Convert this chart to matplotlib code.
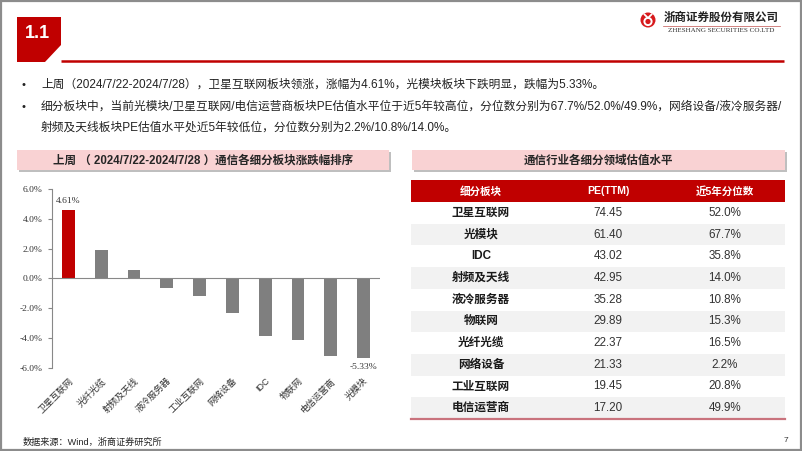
import numpy as np
import matplotlib
matplotlib.use("Agg")
import matplotlib.pyplot as plt
from matplotlib.patches import Rectangle, Polygon, Circle

plt.rcParams['font.family'] = ['Liberation Sans', 'Noto Sans CJK SC', 'DejaVu Sans']

# ---- data ----
cats = ['卫星互联网', '光纤光缆', '射频及天线', '液冷服务器', '工业互联网',
        '网络设备', 'IDC', '物联网', '电信运营商', '光模块']
chg = [4.61, 1.93, 0.59, -0.63, -1.17, -2.34, -3.84, -4.09, -5.19, -5.33]

sectors = ['卫星互联网', '光模块', 'IDC', '射频及天线', '液冷服务器',
           '物联网', '光纤光缆', '网络设备', '工业互联网', '电信运营商']
pe_ttm = [74.45, 61.40, 43.02, 42.95, 35.28, 29.89, 22.37, 21.33, 19.45, 17.20]
pct5y = [52.0, 67.7, 35.8, 14.0, 10.8, 15.3, 16.5, 2.2, 20.8, 49.9]
tbl_cols = ['细分板块', 'PE(TTM)', '近5年分位数']

bullets = ['上周（2024/7/22-2024/7/28），卫星互联网板块领涨，涨幅为4.61%，光模块板块下跌明显，跌幅为5.33%。',
           '细分板块中，当前光模块/卫星互联网/电信运营商板块PE估值水平位于近5年较高位，分位数分别为67.7%/52.0%/49.9%，网络设备/液冷服务器/',
           '射频及天线板块PE估值水平处近5年较低位，分位数分别为2.2%/10.8%/14.0%。']

RED = '#C00000'
GRAY = '#7F7F7F'
PINK = '#F9D2D3'
W, H = 802, 451

fig = plt.figure(figsize=(W/100, H/100), dpi=100)
fig.patch.set_facecolor('white')

# overlay in pixel coords (y down)
ov = fig.add_axes([0, 0, 1, 1], zorder=0)
ov.set_xlim(0, W); ov.set_ylim(H, 0); ov.axis('off')

# slide frame
ov.add_patch(Rectangle((0.8, 0.8), W-1.6, H-1.6, fill=False, ec='#8C8C8C', lw=1.6))

# section block "1.1"
ov.add_patch(Polygon([(17, 17), (61, 17), (61, 45), (45, 62), (17, 62)], closed=True, fc=RED, ec='none'))
ov.text(37, 33, '1.1', color='white', fontsize=13, fontweight='bold', ha='center', va='center')
ov.plot([61, 784], [61, 61], color=RED, lw=1.8, solid_capstyle='butt')

# logo
ov.add_patch(Circle((648, 20), 7.5, fc='#D7191C', ec='none'))
ov.add_patch(Circle((648, 21.5), 3.6, fc='none', ec='white', lw=1.4))
ov.plot([644.5, 648, 651.5], [14.5, 18, 14.5], color='white', lw=1.3)
ov.text(721, 18, '浙商证券股份有限公司', fontsize=8.3, fontweight='bold', color='#222222',
        ha='center', va='center')
ov.plot([663, 780], [26, 26], color='#C0504D', lw=0.5)
ov.text(721, 30.5, 'ZHESHANG SECURITIES CO.LTD', fontsize=5.1, family='Liberation Serif',
        color='#333333', ha='center', va='center')

# bullets
for y, t, b in zip([85, 107, 128], bullets, [True, True, False]):
    if b:
        ov.text(23, y, '•', fontsize=8, color='#222222', ha='center', va='center')
    ov.text(41, y, t, fontsize=8.45, color='#222222', ha='left', va='center')

# panel headers
for x0, x1, title in [(17, 389, '上周 （ 2024/7/22-2024/7/28 ）通信各细分板块涨跌幅排序'),
                      (412, 785, '通信行业各细分领域估值水平')]:
    ov.add_patch(Rectangle((x0+2, 152), x1-x0, 20, fc='#BFBFBF', ec='none'))
    ov.add_patch(Rectangle((x0, 150), x1-x0, 20, fc=PINK, ec='none'))
    ov.text((x0+x1)/2, 160.5, title, fontsize=8.3, fontweight='bold', color='#262626',
            ha='center', va='center')

# table
tx0, tx1 = 411, 785
col_x = [481, 608, 725]
ov.add_patch(Rectangle((tx0, 180), tx1-tx0, 22, fc=RED, ec='none'))
for cx, c in zip(col_x, tbl_cols):
    ov.text(cx, 191.5, c, fontsize=7.6, fontweight='bold', color='white', ha='center', va='center')
rh = 21.7
for i, (s, p, q) in enumerate(zip(sectors, pe_ttm, pct5y)):
    y0 = 202 + i*rh
    if i % 2 == 1:
        ov.add_patch(Rectangle((tx0, y0), tx1-tx0, rh, fc='#F2F2F2', ec='none'))
    yc = y0 + rh/2
    ov.text(col_x[0], yc, s, fontsize=8.4, fontweight='bold', color='#1A1A1A', ha='center', va='center')
    ov.text(col_x[1], yc, f'{p:.2f}', fontsize=8.4, color='#333333', ha='center', va='center')
    ov.text(col_x[2], yc, f'{q:.1f}%', fontsize=8.4, color='#333333', ha='center', va='center')
ov.plot([tx0, tx1], [202+10*rh, 202+10*rh], color='#C9737D', lw=1.6)

# footer
ov.text(23, 442, '数据来源：Wind，浙商证券研究所', fontsize=6.6, color='#222222', ha='left', va='center')
ov.text(786, 440, '7', fontsize=6, color='#333333', ha='center', va='center')

# ---- bar chart ----
ax = fig.add_axes([52/W, 1-368/H, (380-52)/W, (368-189)/H], zorder=1)
ax.patch.set_alpha(0)
x = np.arange(len(cats))
colors = [RED] + [GRAY]*(len(cats)-1)
ax.bar(x, chg, width=0.39, color=colors, zorder=2)
ax.set_xlim(-0.5, len(cats)-0.5)
ax.set_ylim(-6, 6)
ax.set_yticks(np.arange(-6, 6.1, 2))
ax.set_yticklabels([f'{v:.1f}%' for v in np.arange(-6, 6.1, 2)], family='Liberation Serif',
                   fontsize=6.8, color='#333333')
ax.tick_params(axis='y', length=3, width=0.8, color='#888888', pad=4)
ax.set_xticks(x)
ax.set_xticklabels(cats, rotation=45, ha='right', va='top', rotation_mode='anchor',
                   fontsize=6.5, color='#333333')
ax.tick_params(axis='x', length=0, pad=6)
for sp in ['top', 'right', 'bottom']:
    ax.spines[sp].set_visible(False)
ax.spines['left'].set_color('#888888')
ax.spines['left'].set_linewidth(0.8)
ax.axhline(0, color='#888888', lw=0.8, zorder=3)
ax.text(x[0], chg[0] + 0.35, f'{chg[0]:.2f}%', family='Liberation Serif', fontsize=6.8,
        color='#333333', ha='center', va='bottom')
ax.text(x[-1], chg[-1] - 0.35, f'{chg[-1]:.2f}%', family='Liberation Serif', fontsize=6.8,
        color='#333333', ha='center', va='top')

fig.savefig('out.png', dpi=100)
